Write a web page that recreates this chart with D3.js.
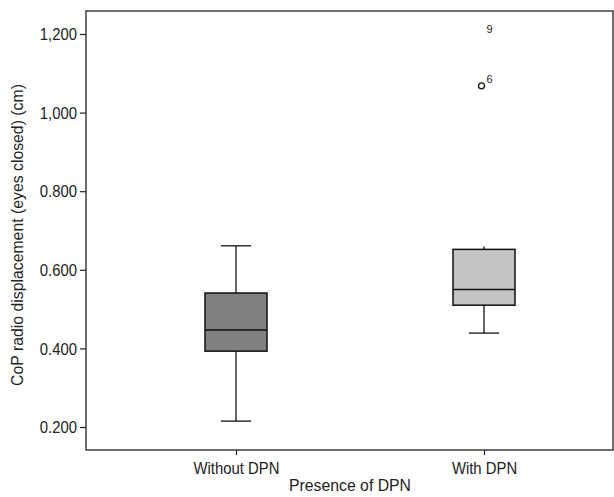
<!DOCTYPE html>
<html>
<head>
<meta charset="utf-8">
<script src="https://cdn.jsdelivr.net/npm/d3@7"></script>
<style>
  body { margin: 0; background: #fff; }
  text { font-family: "Liberation Sans", Arimo, Arial, sans-serif; fill: #222; }
</style>
</head>
<body>
<svg id="chart"></svg>
<script>
// data
const groups = ["Without DPN", "With DPN"];
const whiskerLow = [0.215, 0.439];
const q1 = [0.393, 0.510];
const median = [0.447, 0.550];
const q3 = [0.541, 0.652];
const whiskerHigh = [0.661, 0.659];
const fills = ["#808080", "#c4c4c4"];
const outliers = [
    { group: "With DPN", value: 1.068, label: "6", marker: true },
    { group: "With DPN", value: 1.195, label: "9", marker: false }
];
const yTicks = [0.2, 0.4, 0.6, 0.8, 1.0, 1.2];
const yTickLabels = ["0.200", "0.400", "0.600", "0.800", "1,000", "1,200"];

const width = 614, height = 497;
const margin = { top: 11, right: 1, bottom: 47, left: 86 };
const innerW = width - margin.left - margin.right;
const innerH = height - margin.top - margin.bottom;
const squeeze = 0.93; // the original font is a narrow one

const svg = d3.select("#chart").attr("width", width).attr("height", height);
const g = svg.append("g").attr("transform", `translate(${margin.left},${margin.top})`);

const x = d3.scalePoint().domain(groups).range([150, 398]);
const y = d3.scaleLinear().domain([0.1415, 1.2585]).range([innerH, 0]);

// frame
g.append("rect")
    .attr("width", innerW).attr("height", innerH)
    .attr("fill", "none").attr("stroke", "#222").attr("stroke-width", 1.3);

// axes
const yAxis = g.append("g")
    .call(d3.axisLeft(y).tickValues(yTicks).tickSize(6).tickPadding(3)
        .tickFormat((d, i) => yTickLabels[i]));
const xAxis = g.append("g")
    .attr("transform", `translate(0,${innerH})`)
    .call(d3.axisBottom(x).tickSize(5).tickPadding(7));
[yAxis, xAxis].forEach(a => {
    a.select(".domain").remove();
    a.selectAll(".tick line").attr("stroke", "#222").attr("stroke-width", 1.2);
});
yAxis.selectAll("text").style("font-size", "16px").attr("dy", "0.36em")
    .attr("transform", `scale(${squeeze},1)`).attr("x", -9 / squeeze);
xAxis.selectAll("text").style("font-size", "16px").attr("dy", "0.72em")
    .attr("transform", `scale(${squeeze},1)`);

// boxes
const boxW = 62, capW = 30;
const boxes = g.selectAll(".box")
    .data(groups.map((d, i) => ({
        group: d, lo: whiskerLow[i], q1: q1[i], med: median[i], q3: q3[i], hi: whiskerHigh[i], fill: fills[i]
    })))
    .join("g")
    .attr("class", "box")
    .attr("transform", d => `translate(${x(d.group)},0)`);

boxes.append("line")
    .attr("y1", d => y(d.lo)).attr("y2", d => y(d.hi))
    .attr("stroke", "#111").attr("stroke-width", 1.3);
boxes.append("line")
    .attr("x1", -capW / 2).attr("x2", capW / 2)
    .attr("y1", d => y(d.lo)).attr("y2", d => y(d.lo))
    .attr("stroke", "#111").attr("stroke-width", 1.3);
boxes.append("line")
    .attr("x1", -capW / 2).attr("x2", capW / 2)
    .attr("y1", d => y(d.hi)).attr("y2", d => y(d.hi))
    .attr("stroke", "#111").attr("stroke-width", 1.3)
    .attr("display", d => d.hi - d.q3 < 0.02 ? "none" : null);
boxes.append("rect")
    .attr("x", -boxW / 2).attr("width", boxW)
    .attr("y", d => y(d.q3)).attr("height", d => y(d.q1) - y(d.q3))
    .attr("fill", d => d.fill).attr("stroke", "#111").attr("stroke-width", 1.5);
boxes.append("line")
    .attr("x1", -boxW / 2).attr("x2", boxW / 2)
    .attr("y1", d => y(d.med)).attr("y2", d => y(d.med))
    .attr("stroke", "#111").attr("stroke-width", 1.5);

// outliers
g.selectAll(".outlier")
    .data(outliers.filter(d => d.marker))
    .join("circle")
    .attr("cx", d => x(d.group) - 2.5)
    .attr("cy", d => y(d.value))
    .attr("r", 3)
    .attr("fill", "#fff").attr("stroke", "#111").attr("stroke-width", 1.3);
g.selectAll(".outlier-label")
    .data(outliers)
    .join("text")
    .attr("x", d => x(d.group) + 2.5)
    .attr("y", d => y(d.value) - 3)
    .style("font-size", "11px")
    .text(d => d.label);

// axis titles
svg.append("text")
    .attr("transform", `translate(350,491) scale(${squeeze},1)`)
    .attr("text-anchor", "middle")
    .style("font-size", "17px")
    .text("Presence of DPN");
svg.append("text")
    .attr("transform", `translate(23,235) rotate(-90) scale(${squeeze},1)`)
    .attr("text-anchor", "middle")
    .style("font-size", "17px")
    .text("CoP radio displacement (eyes closed) (cm)");
</script>
</body>
</html>
